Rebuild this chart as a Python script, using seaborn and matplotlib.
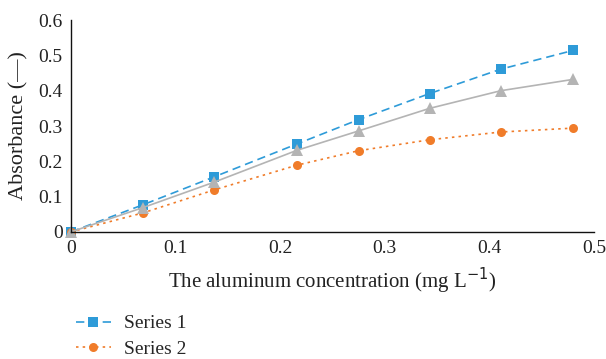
import matplotlib
matplotlib.use("Agg")
import matplotlib.pyplot as plt
import seaborn as sns
import pandas as pd

conc = [0, 0.069, 0.137, 0.216, 0.275, 0.343, 0.411, 0.480]
series1 = [0, 0.077, 0.156, 0.249, 0.318, 0.392, 0.461, 0.514]
series2 = [0, 0.054, 0.119, 0.189, 0.230, 0.261, 0.283, 0.294]
series3 = [0, 0.069, 0.141, 0.231, 0.286, 0.350, 0.400, 0.432]
names = ["Series 1", "Series 2", "Series 3"]
xticks = [0, 0.1, 0.2, 0.3, 0.4, 0.5]
yticks = [0, 0.1, 0.2, 0.3, 0.4, 0.5, 0.6]

sns.set_theme(style="white")
plt.rcParams["font.family"] = ["Liberation Serif", "DejaVu Serif"]

fig = plt.figure(figsize=(6.06, 3.59), dpi=100)
ax = fig.add_axes([0.117, 0.354, 0.863, 0.59])

styles = [
    dict(color="#2E9BD8", linestyle=(0, (5, 3)), marker="s", markersize=6.5, lw=1.2),
    dict(color="#F07C2A", linestyle=(0, (1.5, 2.5)), marker="o", markersize=6.5, lw=1.2),
    dict(color="#B4B4B4", linestyle="-", marker="^", markersize=8.5, lw=1.2),
]
for name, ys, st in zip(names, [series1, series2, series3], styles):
    df = pd.DataFrame({"x": conc, "y": ys})
    sns.lineplot(data=df, x="x", y="y", ax=ax, label=name, clip_on=False,
                 markeredgewidth=0, **st)

ax.set_xlim(0, 0.5)
ax.set_ylim(0, 0.6)
ax.set_xticks(xticks)
ax.set_yticks(yticks)
ax.set_xticklabels(["0" if v == 0 else f"{v:g}" for v in xticks])
ax.set_yticklabels(["0" if v == 0 else f"{v:g}" for v in yticks])
ax.tick_params(axis="both", labelsize=14, length=0, pad=6, colors="#222222")
for s in ["top", "right"]:
    ax.spines[s].set_visible(False)
for s in ["left", "bottom"]:
    ax.spines[s].set_color("#111111")
    ax.spines[s].set_linewidth(1.0)
ax.set_xlabel("The aluminum concentration (mg L$^{-1}$)", fontsize=15, color="#222222", labelpad=6)
ax.set_ylabel("Absorbance (—)", fontsize=16, color="#222222", labelpad=7)

handles, labels = ax.get_legend_handles_labels()
ax.get_legend().remove()
# only the first two entries are visible in the reference (the third is cropped away)
fig.legend(handles[:2], labels[:2], loc="upper left", bbox_to_anchor=(0.112, 0.145),
           frameon=False, fontsize=14, handlelength=1.8, labelspacing=0.42,
           handletextpad=0.7, borderaxespad=0)

fig.savefig("out.png", dpi=100)
